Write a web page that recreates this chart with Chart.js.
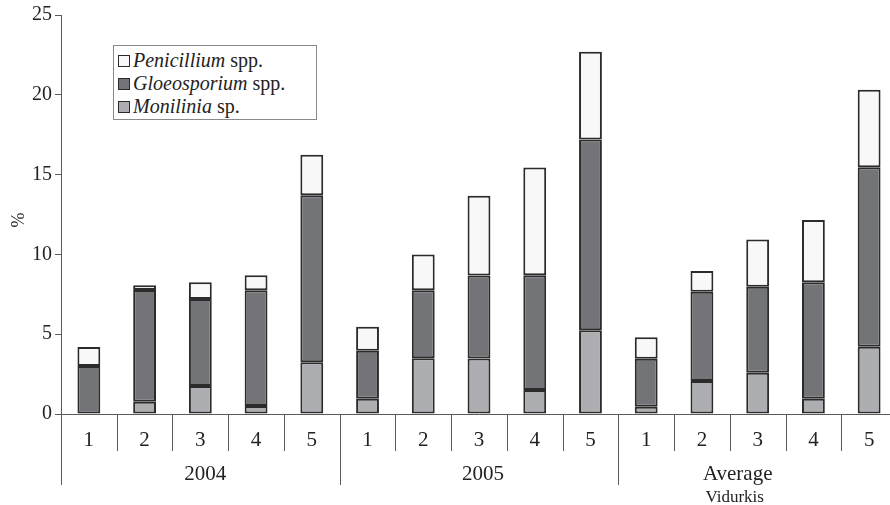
<!DOCTYPE html>
<html>
<head>
<meta charset="utf-8">
<script src="https://cdn.jsdelivr.net/npm/chart.js@4/dist/chart.umd.min.js"></script>
<style>
  html, body { margin: 0; padding: 0; background: #fff; overflow: hidden; }
  #wrap { position: relative; width: 898px; height: 505px; }
  canvas { display: block; }
  #legend {
    position: absolute; left: 113px; top: 45px; width: 204px; height: 75px;
    border: 1px solid #8a8a8a; background: #fff; box-sizing: border-box;
    font-family: "Liberation Serif", "DejaVu Serif", serif; font-size: 20px; color: #222;
    padding: 3px 0 0 4px; line-height: 23px;
  }
  #legend .row { display: flex; align-items: center; white-space: pre; }
  #legend .sw { width: 10px; height: 10px; border: 1.5px solid #2b2b2b; margin-right: 3px; flex: none; }
</style>
</head>
<body>
<div id="wrap">
  <canvas id="c" width="898" height="505"></canvas>
  <div id="legend"></div>
</div>
<script>
// Fruit rot incidence (%) by storage variant, stacked by pathogen
const categories = ['1', '2', '3', '4', '5', '1', '2', '3', '4', '5', '1', '2', '3', '4', '5'];
const groups = ['2004', '2005', 'Average'];
const groupSubLabels = ['', '', 'Vidurkis'];
const monilinia    = [0, 0.77, 1.75, 0.5, 3.25, 0.96, 3.5, 3.48, 1.5, 5.25, 0.46, 2.06, 2.58, 0.96, 4.21];
const gloeosporium = [3.0, 7.0, 5.45, 7.25, 10.45, 3.0, 4.25, 5.2, 7.2, 11.95, 3.0, 5.6, 5.4, 7.3, 11.25];
const penicillium  = [1.2, 0.3, 1.05, 0.95, 2.55, 1.5, 2.25, 5.0, 6.75, 5.5, 1.35, 1.3, 2.95, 3.9, 4.85];
const yTicks = [0, 5, 10, 15, 20, 25];

const SERIF = '"Liberation Serif", "DejaVu Serif", serif';
const INK = '#222';
const AXIS = '#5a5a5a';
const EDGE = '#2b2b2b';

const seriesDefs = [
  { name: 'Penicillium', suffix: ' spp.', data: penicillium, color: '#f8f8f8' },
  { name: 'Gloeosporium', suffix: ' spp.', data: gloeosporium, color: '#737478' },
  { name: 'Monilinia', suffix: ' sp.', data: monilinia, color: '#adaeb1' }
];

// Legend with italic genus names
const legendEl = document.getElementById('legend');
seriesDefs.forEach(s => {
  const row = document.createElement('div');
  row.className = 'row';
  row.innerHTML = '<span class="sw" style="background:' + s.color + '"></span><i>' + s.name + '</i><span>' + s.suffix + '</span>';
  legendEl.appendChild(row);
});

// Category separators, group separators, group labels and the y-axis title
const axisDecor = {
  id: 'axisDecor',
  afterDraw(chart) {
    const ctx = chart.ctx;
    const x = chart.scales.x, y = chart.scales.y;
    const base = y.getPixelForValue(0);
    const step = x.getPixelForValue(1) - x.getPixelForValue(0);
    ctx.save();
    ctx.strokeStyle = AXIS;
    ctx.lineWidth = 1;
    // y axis continues below the baseline
    ctx.beginPath();
    ctx.moveTo(Math.round(x.left) + 0.5, base);
    ctx.lineTo(Math.round(x.left) + 0.5, base + 71);
    ctx.stroke();
    for (let i = 1; i < categories.length; i++) {
      const px = Math.round(x.getPixelForValue(i) - step / 2) + 0.5;
      const isGroupEdge = i % 5 === 0;
      ctx.beginPath();
      ctx.moveTo(px, base);
      ctx.lineTo(px, base + (isGroupEdge ? 71 : 37));
      ctx.stroke();
    }
    ctx.fillStyle = INK;
    ctx.textAlign = 'center';
    ctx.textBaseline = 'middle';
    const shifts = [5, 4, -20];
    groups.forEach((g, gi) => {
      const cx = x.getPixelForValue(gi * 5 + 2) + shifts[gi];
      ctx.font = '21px ' + SERIF;
      ctx.fillText(g, cx, base + 60);
      if (groupSubLabels[gi]) {
        ctx.font = '17px ' + SERIF;
        ctx.fillText(groupSubLabels[gi], cx - 3, base + 84);
      }
    });
    ctx.translate(19, 220);
    ctx.rotate(-Math.PI / 2);
    ctx.font = '18px ' + SERIF;
    ctx.fillText('%', 0, 0);
    ctx.restore();
  }
};

new Chart(document.getElementById('c'), {
  type: 'bar',
  data: {
    labels: categories,
    datasets: seriesDefs.slice().reverse().map(s => ({
      label: s.name,
      data: s.data,
      backgroundColor: s.color,
      borderColor: EDGE,
      borderWidth: 2,
      borderSkipped: false,
      categoryPercentage: 1,
      barPercentage: 0.41
    }))
  },
  options: {
    responsive: false,
    animation: false,
    layout: { padding: { top: 14, right: 1, left: 0, bottom: 0 } },
    plugins: { legend: { display: false }, tooltip: { enabled: false } },
    scales: {
      x: {
        stacked: true,
        afterFit(s) { s.height = 91; },
        grid: { display: true, drawOnChartArea: false, drawTicks: false, color: 'transparent' },
        border: { display: true, color: AXIS, width: 1 },
        ticks: { color: INK, font: { family: SERIF, size: 21 }, padding: 14, maxRotation: 0, autoSkip: false }
      },
      y: {
        stacked: true,
        min: 0, max: 25,
        afterFit(s) { s.width = 61; },
        afterBuildTicks(s) { s.ticks = yTicks.map(v => ({ value: v })); },
        grid: { display: true, drawOnChartArea: false, drawTicks: true, tickLength: 6, color: AXIS },
        border: { display: true, color: AXIS, width: 1 },
        ticks: { color: INK, font: { family: SERIF, size: 20 }, padding: 3 }
      }
    }
  },
  plugins: [axisDecor]
});
</script>
</body>
</html>
